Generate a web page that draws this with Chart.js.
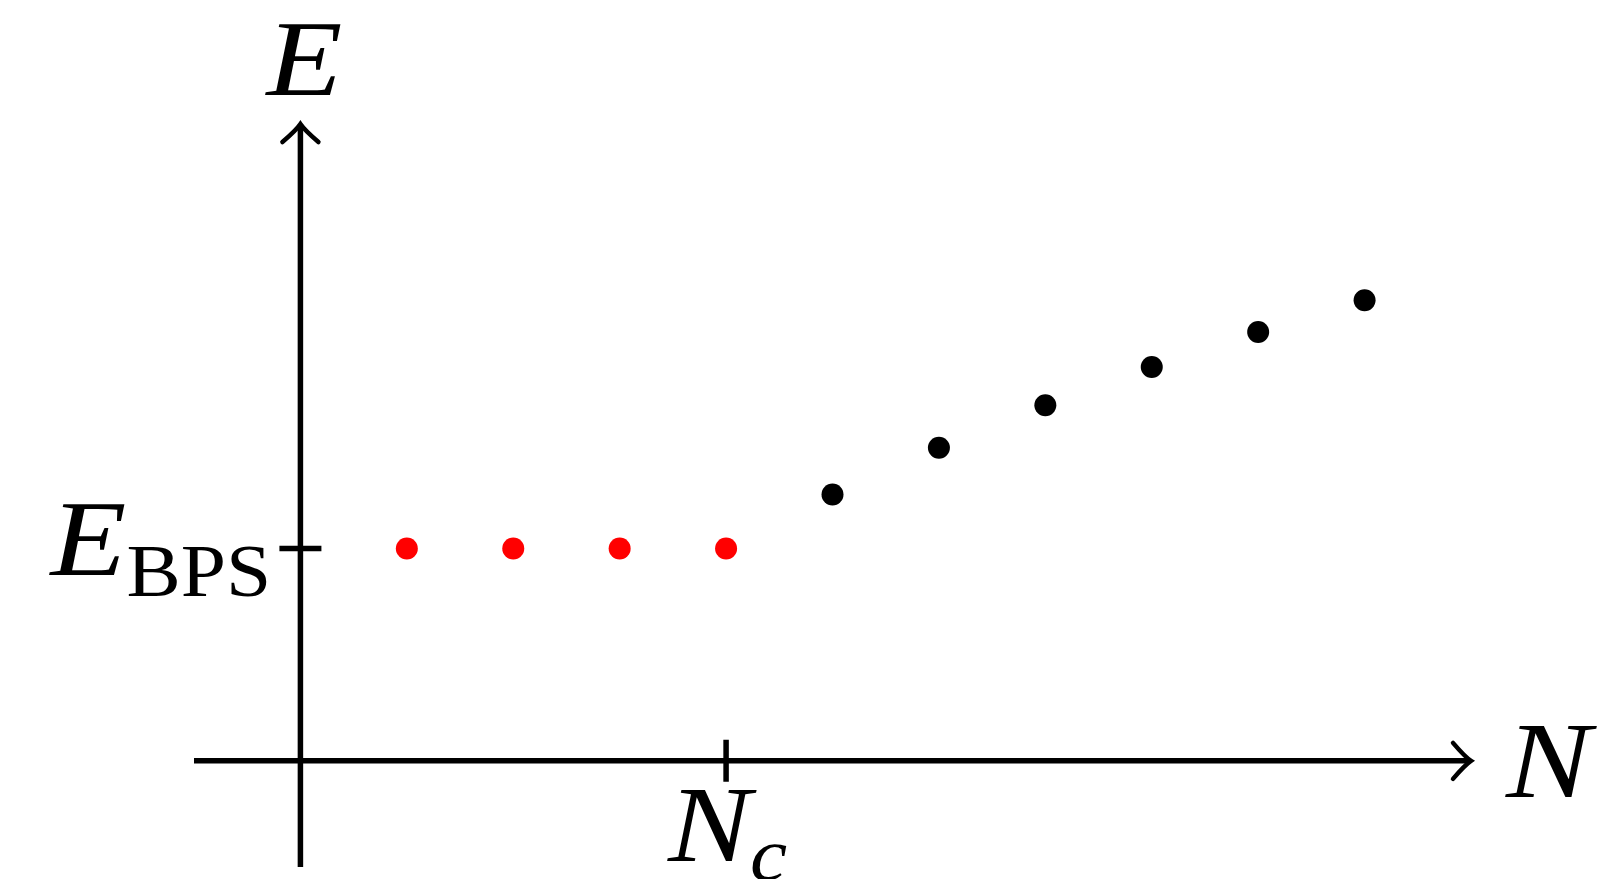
<!DOCTYPE html>
<html>
<head>
<meta charset="utf-8">
<script src="https://cdn.jsdelivr.net/npm/chart.js@4"></script>
<style>
  html, body { margin: 0; padding: 0; background: #fff; }
  #wrap { width: 1619px; height: 879px; }
</style>
</head>
<body>
<div id="wrap"><canvas id="chart"></canvas></div>
<script>
// data (axis units: one dot spacing)
const bpsN = [1, 2, 3, 4];
const bpsE = [2, 2, 2, 2];
const aboveN = [5, 6, 7, 8, 9, 10];
const aboveE = [2.51, 2.95, 3.35, 3.71, 4.04, 4.34];
const xRange = [-1, 11];
const yRange = [-1, 6];
const ncValue = 4;     // N_c tick
const eBpsValue = 2;   // E_BPS tick

// text stretched sideways a little, to get closer to the wide TeX glyphs
function wideText(ctx, text, x, y, font, sx) {
  ctx.save();
  ctx.font = font;
  ctx.translate(x, y);
  ctx.scale(sx, 1);
  ctx.fillText(text, 0, 0);
  ctx.restore();
}

// axes, arrows, ticks and math labels drawn with the chart's scales
const axesPlugin = {
  id: 'axes',
  beforeDatasetsDraw(chart) {
    const ctx = chart.ctx;
    const xs = chart.scales.x, ys = chart.scales.y;
    const x0 = xs.getPixelForValue(0), y0 = ys.getPixelForValue(0);
    const xL = xs.getPixelForValue(xRange[0]), xR = xs.getPixelForValue(xRange[1]);
    const yB = ys.getPixelForValue(yRange[0]), yT = ys.getPixelForValue(yRange[1]);
    ctx.save();
    ctx.strokeStyle = '#000';
    ctx.lineWidth = 5.5;
    ctx.lineCap = 'butt';
    ctx.beginPath();
    ctx.moveTo(xL, y0); ctx.lineTo(xR - 2, y0);
    ctx.moveTo(x0, yB); ctx.lineTo(x0, yT + 2);
    ctx.stroke();

    // tikz-like curved arrow heads
    ctx.lineWidth = 4.5;
    ctx.lineCap = 'round';
    ctx.beginPath();
    ctx.moveTo(xR - 18, y0 - 18);
    ctx.quadraticCurveTo(xR - 6, y0 - 4, xR, y0);
    ctx.quadraticCurveTo(xR - 6, y0 + 4, xR - 18, y0 + 18);
    ctx.moveTo(x0 - 18, yT + 18);
    ctx.quadraticCurveTo(x0 - 4, yT + 6, x0, yT);
    ctx.quadraticCurveTo(x0 + 4, yT + 6, x0 + 18, yT + 18);
    ctx.stroke();

    // ticks
    ctx.lineWidth = 5.5;
    ctx.lineCap = 'butt';
    const nx = xs.getPixelForValue(ncValue), ey = ys.getPixelForValue(eBpsValue);
    ctx.beginPath();
    ctx.moveTo(nx, y0 - 21); ctx.lineTo(nx, y0 + 21);
    ctx.moveTo(x0 - 21, ey); ctx.lineTo(x0 + 21, ey);
    ctx.stroke();
    ctx.restore();
  },
  afterDraw(chart) {
    const ctx = chart.ctx;
    const xs = chart.scales.x, ys = chart.scales.y;
    const x0 = xs.getPixelForValue(0), y0 = ys.getPixelForValue(0);
    const xR = xs.getPixelForValue(xRange[1]);
    const yT = ys.getPixelForValue(yRange[1]);
    const nx = xs.getPixelForValue(ncValue), ey = ys.getPixelForValue(eBpsValue);
    const big = 'italic 108px "Liberation Serif"';
    const sub = '74px "Liberation Serif"';
    const subIt = 'italic 76px "Liberation Serif"';
    ctx.save();
    ctx.fillStyle = '#000';
    ctx.textBaseline = 'alphabetic';
    ctx.textAlign = 'left';

    // E above the y axis
    wideText(ctx, 'E', x0 - 34, yT - 29, big, 1.15);

    // N right of the x axis
    wideText(ctx, 'N', xR + 35, y0 + 36, big, 1.18);

    // E_BPS left of its tick
    wideText(ctx, 'E', x0 - 250, ey + 26, big, 1.15);
    wideText(ctx, 'BPS', x0 - 174, ey + 47, sub, 1.1);

    // N_c below its tick
    wideText(ctx, 'N', nx - 58, y0 + 100, big, 1.15);
    wideText(ctx, 'c', nx + 24, y0 + 119, subIt, 1.1);
    ctx.restore();
  }
};

new Chart(document.getElementById('chart'), {
  type: 'scatter',
  data: {
    datasets: [
      {
        data: bpsN.map((n, i) => ({ x: n, y: bpsE[i] })),
        backgroundColor: '#ff0000',
        borderWidth: 0,
        pointRadius: 11,
        clip: false
      },
      {
        data: aboveN.map((n, i) => ({ x: n, y: aboveE[i] })),
        backgroundColor: '#000000',
        borderWidth: 0,
        pointRadius: 11,
        clip: false
      }
    ]
  },
  options: {
    responsive: true,
    maintainAspectRatio: false,
    animation: false,
    layout: { padding: { left: 194, right: 148, top: 124, bottom: 12 } },
    plugins: { legend: { display: false }, tooltip: { enabled: false } },
    scales: {
      x: { type: 'linear', min: xRange[0], max: xRange[1], display: false },
      y: { type: 'linear', min: yRange[0], max: yRange[1], display: false }
    }
  },
  plugins: [axesPlugin]
});
</script>
</body>
</html>
